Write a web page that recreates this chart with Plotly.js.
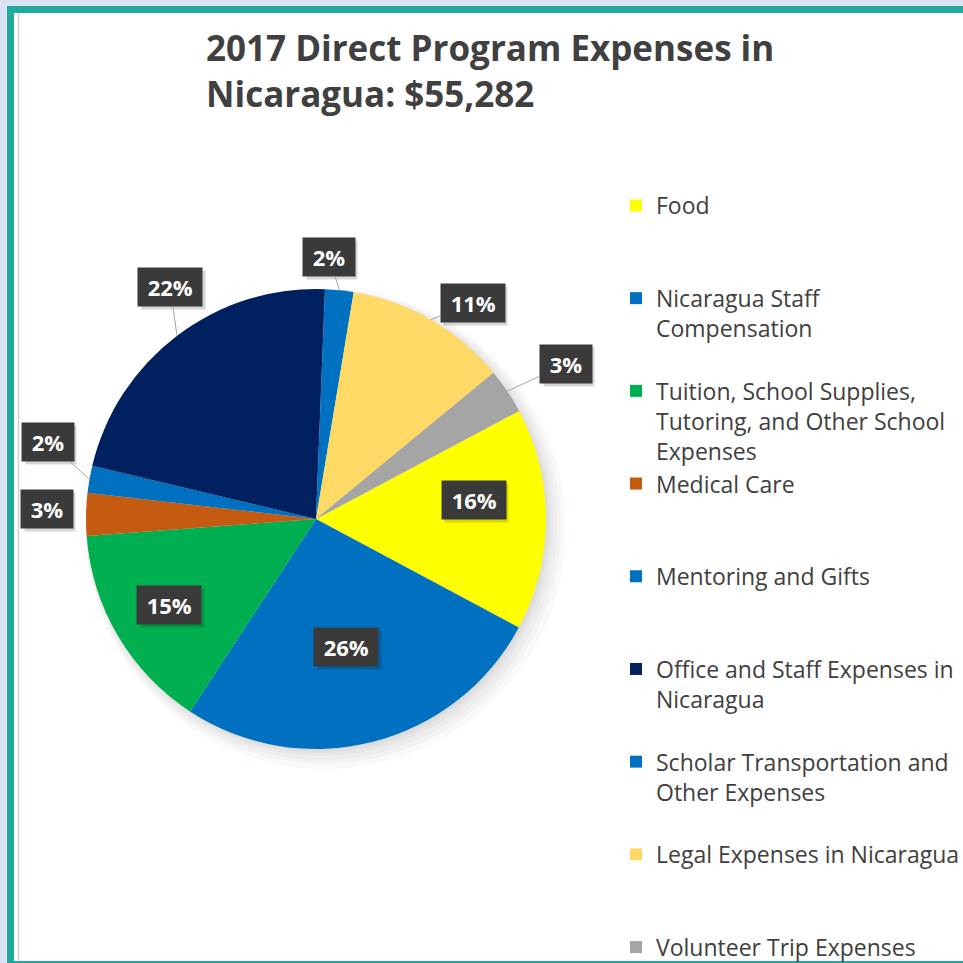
<!DOCTYPE html>
<html><head><meta charset="utf-8">
<script src="https://cdn.plot.ly/plotly-3.0.1.min.js"></script>
<style>html,body{margin:0;padding:0;background:#fff;overflow:hidden;}#chart{display:block;width:963px;height:963px;}</style>
</head><body><div id="chart"></div>
<script>
// ---- data ----
const categories = [
  "Food",
  "Nicaragua Staff<br>Compensation",
  "Tuition, School Supplies,<br>Tutoring, and Other School<br>Expenses",
  "Medical Care",
  "Mentoring and Gifts",
  "Office and Staff Expenses in<br>Nicaragua",
  "Scholar Transportation and<br>Other Expenses",
  "Legal Expenses in Nicaragua",
  "Volunteer Trip Expenses"
];
const shares = [15.6, 26.4, 14.6, 3.0, 1.9, 21.9, 2.0, 11.4, 3.2];
const titleText = "2017 Direct Program Expenses in<br>Nicaragua: $55,282";

// ---- style ----
const sliceColors = ["#FFFF00","#0070C0","#00B050","#C55A11","#0070C0","#002060","#0070C0","#FFD966","#A5A5A5"];
const labelRadius = [0.69, 0.57, 0.74, 1.17, 1.21, 1.19, 1.14, 1.16, 1.28];
const labelTurn   = [-7, 1, 0, 1, 6, 5, -3, 6, 2];   // degrees nudge of label box from slice middle
const labelLine   = [false, false, false, false, true, true, true, true, true];
const FONT = "'Open Sans', Lato, sans-serif";

const W = 963, H = 963;
const CX = 316, CY = 519, R = 230, ROT = 62;
const px = x => x / W, py = y => 1 - y / H;
const rad = d => d * Math.PI / 180;

// legend labels padded to equal line count so entries are evenly spaced
const maxLines = Math.max(...categories.map(c => c.split("<br>").length));
const legendLabels = categories.map((c, i) => {
  const parts = c.split("<br>");
  if (i < categories.length - 1) while (parts.length < maxLines) parts.push("\u00a0");
  return parts.join("<br>");
});

// percentage label annotations computed from the data
const total = shares.reduce((a, b) => a + b, 0);
let cum = 0;
const shadows = [], annotations = [];
shares.forEach((v, i) => {
  const midDeg = ROT + 360 * (cum + v / 2) / total;
  cum += v;
  const pct = Math.round(100 * v / total) + "%";
  const m = rad(midDeg), l = rad(midDeg + labelTurn[i]);
  const lx = CX + labelRadius[i] * R * Math.sin(l), ly = CY - labelRadius[i] * R * Math.cos(l);
  const txt = "\u00a0" + pct + "\u00a0";
  // blank box of the same width, used as a soft drop shadow
  const blank = "\u00a0" + pct.replace(/[0-9]/g, "\u2007").replace("%", "\u2002\u2004") + "\u00a0";
  shadows.push({
    text: blank, x: px(lx), y: py(ly), xref: "paper", yref: "paper", showarrow: false,
    xanchor: "center", yanchor: "middle",
    xshift: 3, yshift: -3, borderpad: 4,
    font: {family: FONT, size: 22, color: "rgba(0,0,0,0)", weight: "bold"},
    bgcolor: "rgba(0,0,0,0.16)"
  });
  const base = {
    text: txt,
    font: {family: FONT, size: 22, color: "#FFFFFF", weight: "bold"},
    bgcolor: "#3A3A3A", borderpad: 4,
    xref: "paper", yref: "paper", xanchor: "center", yanchor: "middle"
  };
  if (labelLine[i]) {
    const ex = CX + R * Math.sin(m), ey = CY - R * Math.cos(m);
    annotations.push(Object.assign(base, {
      x: px(ex), y: py(ey), ax: lx - ex, ay: ly - ey,
      showarrow: true, arrowhead: 0, arrowwidth: 1, arrowcolor: "#A6A6A6", standoff: 0
    }));
  } else {
    annotations.push(Object.assign(base, {x: px(lx), y: py(ly), showarrow: false}));
  }
});

const trace = {
  type: "pie",
  labels: legendLabels,
  values: shares,
  sort: false,
  direction: "clockwise",
  rotation: ROT,
  textinfo: "none",
  marker: {colors: sliceColors, line: {width: 0}},
  domain: {x: [px(CX - R), px(CX + R)], y: [py(CY + R), py(CY - R)]},
  hoverinfo: "label+percent"
};

const shapes = [
  {type: "rect", xref: "paper", yref: "paper", x0: px(7), x1: 1, y0: 0, y1: py(6), fillcolor: "#22AA9C", line: {width: 0}, layer: "below"},
  {type: "rect", xref: "paper", yref: "paper", x0: px(14), x1: 1, y0: py(961), y1: py(13), fillcolor: "#FFFFFF", line: {width: 0}, layer: "below"},
  {type: "line", xref: "paper", yref: "paper", x0: px(18.5), x1: px(18.5), y0: py(961), y1: py(13), line: {color: "#D0D0D0", width: 1.5}, layer: "below"}
];
// soft drop shadow under the pie (mostly to the lower right)
[20, 15, 11, 7, 4, 2].forEach(g => {
  shapes.push({type: "circle", xref: "paper", yref: "paper",
    x0: px(CX - R + 3 - g * 0.2), x1: px(CX + R + g),
    y0: py(CY + R + g), y1: py(CY - R + 3 - g * 0.2),
    fillcolor: "rgba(0,0,0,0.022)", line: {width: 0}, layer: "below"});
});

const layout = {
  width: W, height: H,
  margin: {l: 0, r: 0, t: 0, b: 0, autoexpand: false},
  paper_bgcolor: "#DAE3F3",
  showlegend: true,
  title: {
    text: titleText,
    xref: "container", yref: "container",
    x: px(206), xanchor: "left", y: py(61), yanchor: "top",
    font: {family: FONT, size: 35, color: "#404040", weight: "bold"}
  },
  legend: {
    x: px(616), xanchor: "left", y: py(184), yanchor: "top",
    bgcolor: "rgba(0,0,0,0)", valign: "top", traceorder: "normal",
    font: {family: FONT, size: 23, color: "#404040"}
  },
  shapes: shapes,
  annotations: shadows.concat(annotations)
};

Plotly.newPlot("chart", [trace], layout, {displayModeBar: false, staticPlot: true});
</script>
</body></html>
